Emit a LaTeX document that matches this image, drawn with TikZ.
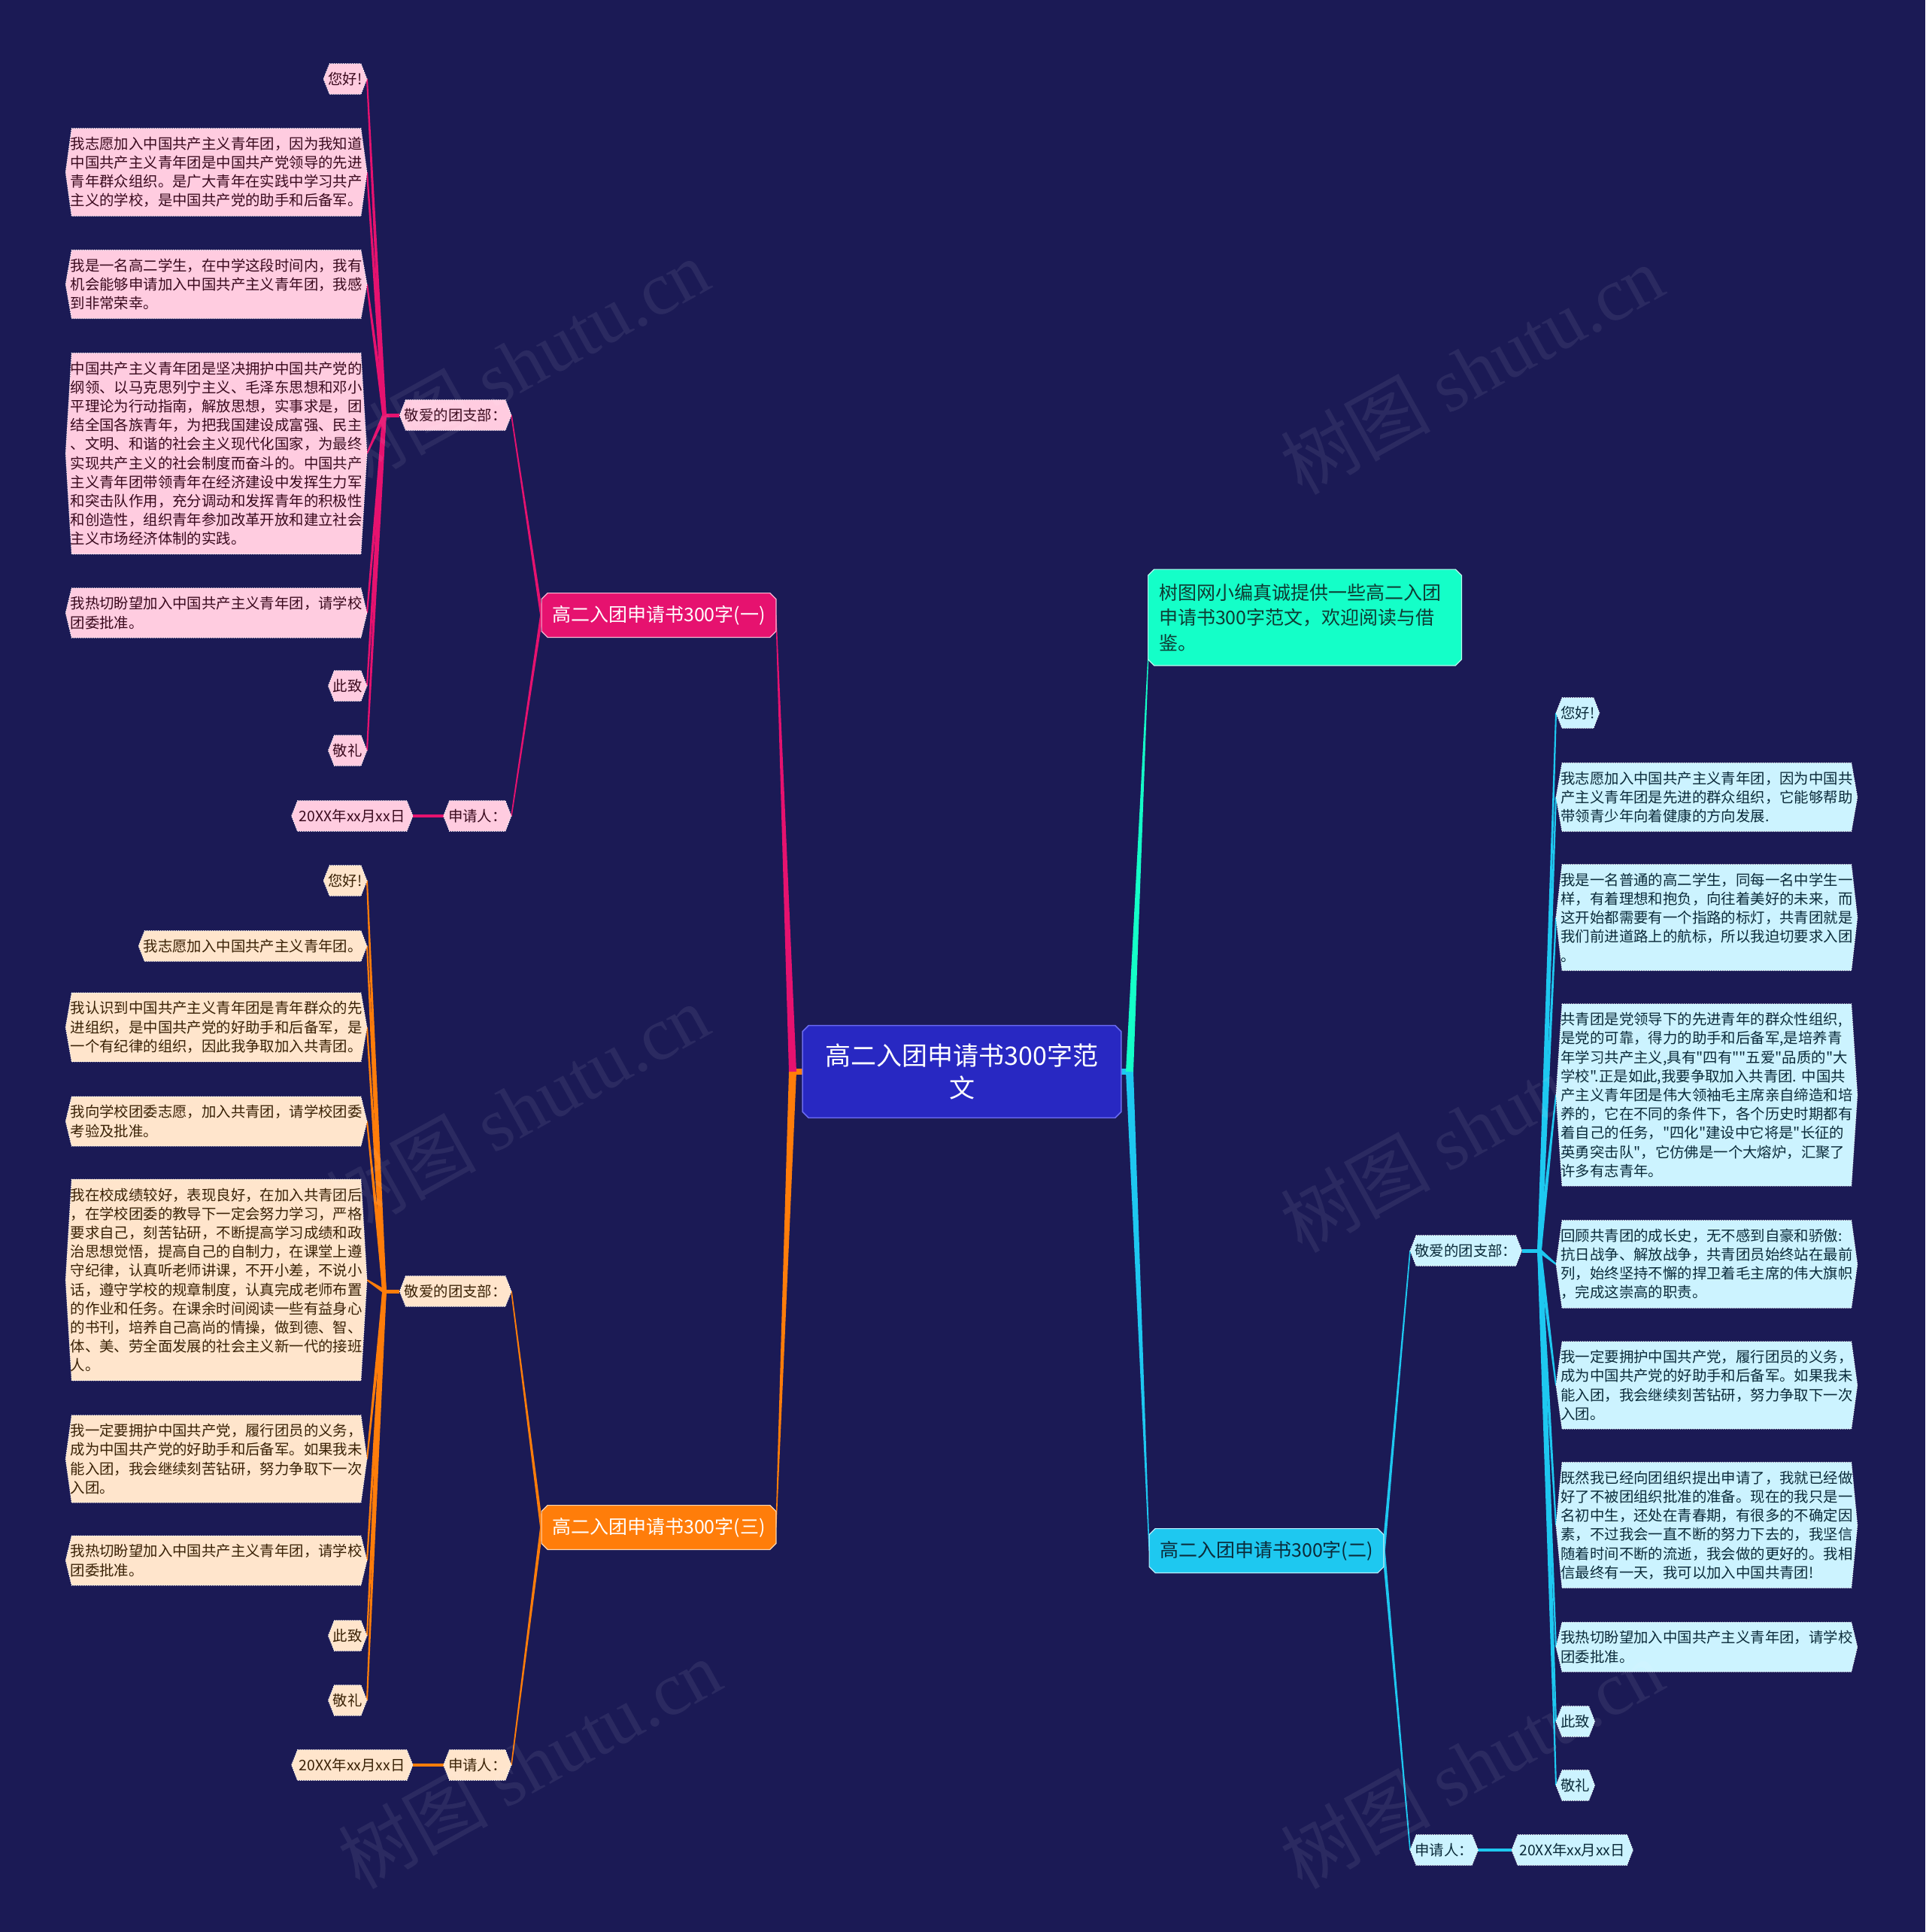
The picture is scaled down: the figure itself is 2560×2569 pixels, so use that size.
\documentclass[tikz,border=0pt]{standalone}
\usepackage{fontspec}
\setmainfont{Noto Sans CJK SC}[Ligatures=TeXOff]
\newfontfamily\wmlatin{Liberation Serif}
\usetikzlibrary{calc}
\definecolor{bgc}{HTML}{1B1A55}
\definecolor{cenc}{HTML}{2828C2}
\definecolor{cenb}{HTML}{6A6AF0}
\definecolor{pinkc}{HTML}{E6126F}
\definecolor{pinkl}{HTML}{FFCCE0}
\definecolor{pinkt}{HTML}{3A0A1E}
\definecolor{orc}{HTML}{FF7D0A}
\definecolor{orl}{HTML}{FFE5CC}
\definecolor{ort}{HTML}{3A2206}
\definecolor{cyc}{HTML}{1EC8F0}
\definecolor{cyl}{HTML}{CCF3FF}
\definecolor{cyt}{HTML}{0B2B3A}
\definecolor{tec}{HTML}{14FFC8}
\definecolor{tet}{HTML}{0E3B33}
\pgfdeclarelayer{lines}
\pgfdeclarelayer{shapes}
\pgfsetlayers{lines,shapes,main}
\newcommand\leaffont{\fontsize{9.7}{12.6}\selectfont}
\newcommand\brfont{\fontsize{12.5}{15}\selectfont}
\newcommand\tefont{\fontsize{12.5}{16.8}\selectfont}
\newcommand\cenfont{\fontsize{17}{21.5}\selectfont}
\newcommand\hexa[2]{\path[#2] ($(#1.north west)+(8,0)$) -- ($(#1.north east)+(-8,0)$) -- (#1.east) -- ($(#1.south east)+(-8,0)$) -- ($(#1.south west)+(8,0)$) -- (#1.west) -- cycle;}
\newcommand\chamf[2]{\path[#2] ($(#1.north west)+(8,0)$) -- ($(#1.north east)+(-8,0)$) -- ($(#1.north east)+(0,8)$) -- ($(#1.south east)+(0,-8)$) -- ($(#1.south east)+(-8,0)$) -- ($(#1.south west)+(8,0)$) -- ($(#1.south west)+(0,-8)$) -- ($(#1.north west)+(0,8)$) -- cycle;}
\newcommand\taper[5]{\fill[#5] ($(#1)!#3!90:(#2)$) -- ($(#2)!#4!-90:(#1)$) -- ($(#2)!#4!90:(#1)$) -- ($(#1)!#3!-90:(#2)$) -- cycle;}
\begin{document}
\begin{tikzpicture}[x=0.5pt,y=-0.5pt,
  leaf/.style={font=\leaffont, align=left, inner xsep=3pt, inner ysep=5.5pt},
  wide/.style={text width=194pt},
  pleaf/.style={leaf, text=pinkt},
  oleaf/.style={leaf, text=ort},
  cleaf/.style={leaf, text=cyt},
  brnode/.style={font=\brfont, inner xsep=6pt, minimum width=155.5pt, minimum height=29pt},
  wmark/.style={rotate=29, text=white, opacity=0.07, font=\fontsize{50}{50}\selectfont}]
\useasboundingbox (0,0) rectangle (2560,2569);

% ---------- centre and level 1 ----------
\node[font=\cenfont, text=white, align=center, minimum width=211.5pt, minimum height=61pt] (c) at (1279,1425) {高二入团申请书300字范\\文};
\node[brnode, text=white] (b1) at (876,818) {高二入团申请书300字(一)};
\node[brnode, text=white] (b3) at (876,2031) {高二入团申请书300字(三)};
\node[brnode, text=cyt] (b2) at (1684,2062) {高二入团申请书300字(二)};
\node[font=\tefont, text=tet, align=left, text width=194pt, inner xsep=7pt, minimum height=63.5pt] (tl) at (1735,821) {树图网小编真诚提供一些高二入团\\申请书300字范文，欢迎阅读与借\\鉴。};
\coordinate (tlp) at ($(tl.south west)+(0,-8)$);
\coordinate (cl) at (1054,1425);
\coordinate (cr) at (1502,1425);

% ---------- branch 1 ----------
\node[pleaf, anchor=east] (b1j) at (680,552) {敬爱的团支部：};
\node[pleaf, anchor=east] (b1s) at (680,1085) {申请人：};
\node[pleaf, anchor=east, inner xsep=5pt] (b1t) at (549,1085) {20XX年xx月xx日};
\coordinate (b1x) at (511,552);
\node[pleaf, anchor=east] (b1a) at (488,105) {您好!};
\node[pleaf, wide, anchor=east] (b1b) at (488,229) {我志愿加入中国共产主义青年团，因为我知道\\中国共产主义青年团是中国共产党领导的先进\\青年群众组织。是广大青年在实践中学习共产\\主义的学校，是中国共产党的助手和后备军。};
\node[pleaf, wide, anchor=east] (b1c) at (488,378) {我是一名高二学生，在中学这段时间内，我有\\机会能够申请加入中国共产主义青年团，我感\\到非常荣幸。};
\node[pleaf, wide, anchor=east] (b1d) at (488,603) {中国共产主义青年团是坚决拥护中国共产党的\\纲领、以马克思列宁主义、毛泽东思想和邓小\\平理论为行动指南，解放思想，实事求是，团\\结全国各族青年，为把我国建设成富强、民主\\、文明、和谐的社会主义现代化国家，为最终\\实现共产主义的社会制度而奋斗的。中国共产\\主义青年团带领青年在经济建设中发挥生力军\\和突击队作用，充分调动和发挥青年的积极性\\和创造性，组织青年参加改革开放和建立社会\\主义市场经济体制的实践。};
\node[pleaf, wide, anchor=east] (b1e) at (488,815) {我热切盼望加入中国共产主义青年团，请学校\\团委批准。};
\node[pleaf, anchor=east] (b1f) at (488,912) {此致};
\node[pleaf, anchor=east] (b1g) at (488,998) {敬礼};

% ---------- branch 3 ----------
\node[oleaf, anchor=east] (b3j) at (680,1717) {敬爱的团支部：};
\node[oleaf, anchor=east] (b3s) at (680,2347) {申请人：};
\node[oleaf, anchor=east, inner xsep=5pt] (b3t) at (549,2347) {20XX年xx月xx日};
\coordinate (b3x) at (511,1717);
\node[oleaf, anchor=east] (b3a) at (488,1171) {您好!};
\node[oleaf, anchor=east] (b3b) at (488,1258) {我志愿加入中国共产主义青年团。};
\node[oleaf, wide, anchor=east] (b3c) at (488,1366) {我认识到中国共产主义青年团是青年群众的先\\进组织，是中国共产党的好助手和后备军，是\\一个有纪律的组织，因此我争取加入共青团。};
\node[oleaf, wide, anchor=east] (b3d) at (488,1491) {我向学校团委志愿，加入共青团，请学校团委\\考验及批准。};
\node[oleaf, wide, anchor=east] (b3e) at (488,1702) {我在校成绩较好，表现良好，在加入共青团后\\，在学校团委的教导下一定会努力学习，严格\\要求自己，刻苦钻研，不断提高学习成绩和政\\治思想觉悟，提高自己的自制力，在课堂上遵\\守纪律，认真听老师讲课，不开小差，不说小\\话，遵守学校的规章制度，认真完成老师布置\\的作业和任务。在课余时间阅读一些有益身心\\的书刊，培养自己高尚的情操，做到德、智、\\体、美、劳全面发展的社会主义新一代的接班\\人。};
\node[oleaf, wide, anchor=east] (b3f) at (488,1940) {我一定要拥护中国共产党，履行团员的义务，\\成为中国共产党的好助手和后备军。如果我未\\能入团，我会继续刻苦钻研，努力争取下一次\\入团。};
\node[oleaf, wide, anchor=east] (b3g) at (488,2075) {我热切盼望加入中国共产主义青年团，请学校\\团委批准。};
\node[oleaf, anchor=east] (b3h) at (488,2175) {此致};
\node[oleaf, anchor=east] (b3i) at (488,2261) {敬礼};

% ---------- branch 2 ----------
\node[cleaf, anchor=west] (b2j) at (1875,1663) {敬爱的团支部：};
\node[cleaf, anchor=west] (b2s) at (1875,2460) {申请人：};
\node[cleaf, anchor=west, inner xsep=5pt] (b2t) at (2010,2460) {20XX年xx月xx日};
\coordinate (b2x) at (2047,1663);
\node[cleaf, anchor=west] (b2a) at (2069,948) {您好!};
\node[cleaf, wide, anchor=west] (b2b) at (2069,1060) {我志愿加入中国共产主义青年团，因为中国共\\产主义青年团是先进的群众组织，它能够帮助\\带领青少年向着健康的方向发展.};
\node[cleaf, wide, anchor=west] (b2c) at (2069,1220) {我是一名普通的高二学生，同每一名中学生一\\样，有着理想和抱负，向往着美好的未来，而\\这开始都需要有一个指路的标灯，共青团就是\\我们前进道路上的航标，所以我迫切要求入团\\。};
\node[cleaf, wide, anchor=west] (b2d) at (2069,1456) {共青团是党领导下的先进青年的群众性组织,\\是党的可靠，得力的助手和后备军,是培养青\\年学习共产主义,具有"四有""五爱"品质的"大\\学校".正是如此,我要争取加入共青团.~中国共\\产主义青年团是伟大领袖毛主席亲自缔造和培\\养的，它在不同的条件下，各个历史时期都有\\着自己的任务，"四化"建设中它将是"长征的\\英勇突击队"，它仿佛是一个大熔炉，汇聚了\\许多有志青年。};
\node[cleaf, wide, anchor=west] (b2e) at (2069,1681) {回顾共青团的成长史，无不感到自豪和骄傲:\\抗日战争、解放战争，共青团员始终站在最前\\列，始终坚持不懈的捍卫着毛主席的伟大旗帜\\，完成这崇高的职责。};
\node[cleaf, wide, anchor=west] (b2f) at (2069,1842) {我一定要拥护中国共产党，履行团员的义务，\\成为中国共产党的好助手和后备军。如果我未\\能入团，我会继续刻苦钻研，努力争取下一次\\入团。};
\node[cleaf, wide, anchor=west] (b2g) at (2069,2028) {既然我已经向团组织提出申请了，我就已经做\\好了不被团组织批准的准备。现在的我只是一\\名初中生，还处在青春期，有很多的不确定因\\素，不过我会一直不断的努力下去的，我坚信\\随着时间不断的流逝，我会做的更好的。我相\\信最终有一天，我可以加入中国共青团!};
\node[cleaf, wide, anchor=west] (b2h) at (2069,2190) {我热切盼望加入中国共产主义青年团，请学校\\团委批准。};
\node[cleaf, anchor=west] (b2i) at (2069,2289) {此致};
\node[cleaf, anchor=west] (b2k) at (2069,2374) {敬礼};

% ---------- connectors ----------
\begin{pgfonlayer}{lines}
\fill[bgc] (0,0) rectangle (2560,2569);
\draw[orc, line width=4pt] (cl) -- (c.west);
\draw[cyc, line width=4pt] (cr) -- (c.east);
\taper{cl}{b3.east}{2.5pt}{0.3pt}{orc}
\taper{cl}{b1.east}{2.5pt}{0.3pt}{pinkc}
\taper{cr}{b2.west}{2.5pt}{0.3pt}{cyc}
\taper{cr}{tlp}{2.5pt}{0.3pt}{tec}
% branch 1
\taper{b1.west}{b1j.east}{1pt}{0.4pt}{pinkc}
\taper{b1.west}{b1s.east}{1pt}{0.4pt}{pinkc}
\draw[pinkc, line width=2pt] (b1s.west) -- (b1t.east);
\draw[pinkc, line width=2.5pt] (b1j.west) -- (b1x);
\foreach \n in {b1a,b1b,b1c,b1d,b1e,b1f,b1g} {\taper{b1x}{\n.east}{1.4pt}{0.5pt}{pinkc}}
% branch 3
\taper{b3.west}{b3j.east}{1pt}{0.4pt}{orc}
\taper{b3.west}{b3s.east}{1pt}{0.4pt}{orc}
\draw[orc, line width=2pt] (b3s.west) -- (b3t.east);
\draw[orc, line width=2.5pt] (b3j.west) -- (b3x);
\foreach \n in {b3a,b3b,b3c,b3d,b3e,b3f,b3g,b3h,b3i} {\taper{b3x}{\n.east}{1.4pt}{0.5pt}{orc}}
% branch 2
\taper{b2.east}{b2j.west}{1pt}{0.4pt}{cyc}
\taper{b2.east}{b2s.west}{1pt}{0.4pt}{cyc}
\draw[cyc, line width=2pt] (b2s.east) -- (b2t.west);
\draw[cyc, line width=2.5pt] (b2j.east) -- (b2x);
\foreach \n in {b2a,b2b,b2c,b2d,b2e,b2f,b2g,b2h,b2i,b2k} {\taper{b2x}{\n.west}{1.4pt}{0.5pt}{cyc}}
\end{pgfonlayer}

% ---------- shapes ----------
\begin{pgfonlayer}{shapes}
\chamf{c}{fill=cenc, draw=cenb, line width=0.8pt}
\chamf{b1}{fill=pinkc, draw=white!70!pinkc, line width=0.6pt}
\chamf{b3}{fill=orc, draw=white!70!orc, line width=0.6pt}
\chamf{b2}{fill=cyc, draw=white!70!cyc, line width=0.6pt}
\chamf{tl}{fill=tec, draw=white!70!tec, line width=0.6pt}
\foreach \n in {b1a,b1b,b1c,b1d,b1e,b1f,b1g,b1j,b1s,b1t} {\hexa{\n}{fill=pinkl, draw=white, densely dotted, line width=0.5pt}}
\foreach \n in {b3a,b3b,b3c,b3d,b3e,b3f,b3g,b3h,b3i,b3j,b3s,b3t} {\hexa{\n}{fill=orl, draw=white, densely dotted, line width=0.5pt}}
\foreach \n in {b2a,b2b,b2c,b2d,b2e,b2f,b2g,b2h,b2i,b2k,b2j,b2s,b2t} {\hexa{\n}{fill=cyl, draw=white, densely dotted, line width=0.5pt}}
\end{pgfonlayer}

% ---------- watermarks ----------
\node[wmark] (w1) at (688,483) {树图 {\wmlatin shutu.cn}};
\node[wmark] (w2) at (1957,491) {树图 {\wmlatin shutu.cn}};
\node[wmark] (w3) at (688,1474) {树图 {\wmlatin shutu.cn}};
\node[wmark] (w4) at (1957,1499) {树图 {\wmlatin shutu.cn}};
\node[wmark] (w5) at (704,2345) {树图 {\wmlatin shutu.cn}};
\node[wmark] (w6) at (1957,2345) {树图 {\wmlatin shutu.cn}};
\end{tikzpicture}
\end{document}
